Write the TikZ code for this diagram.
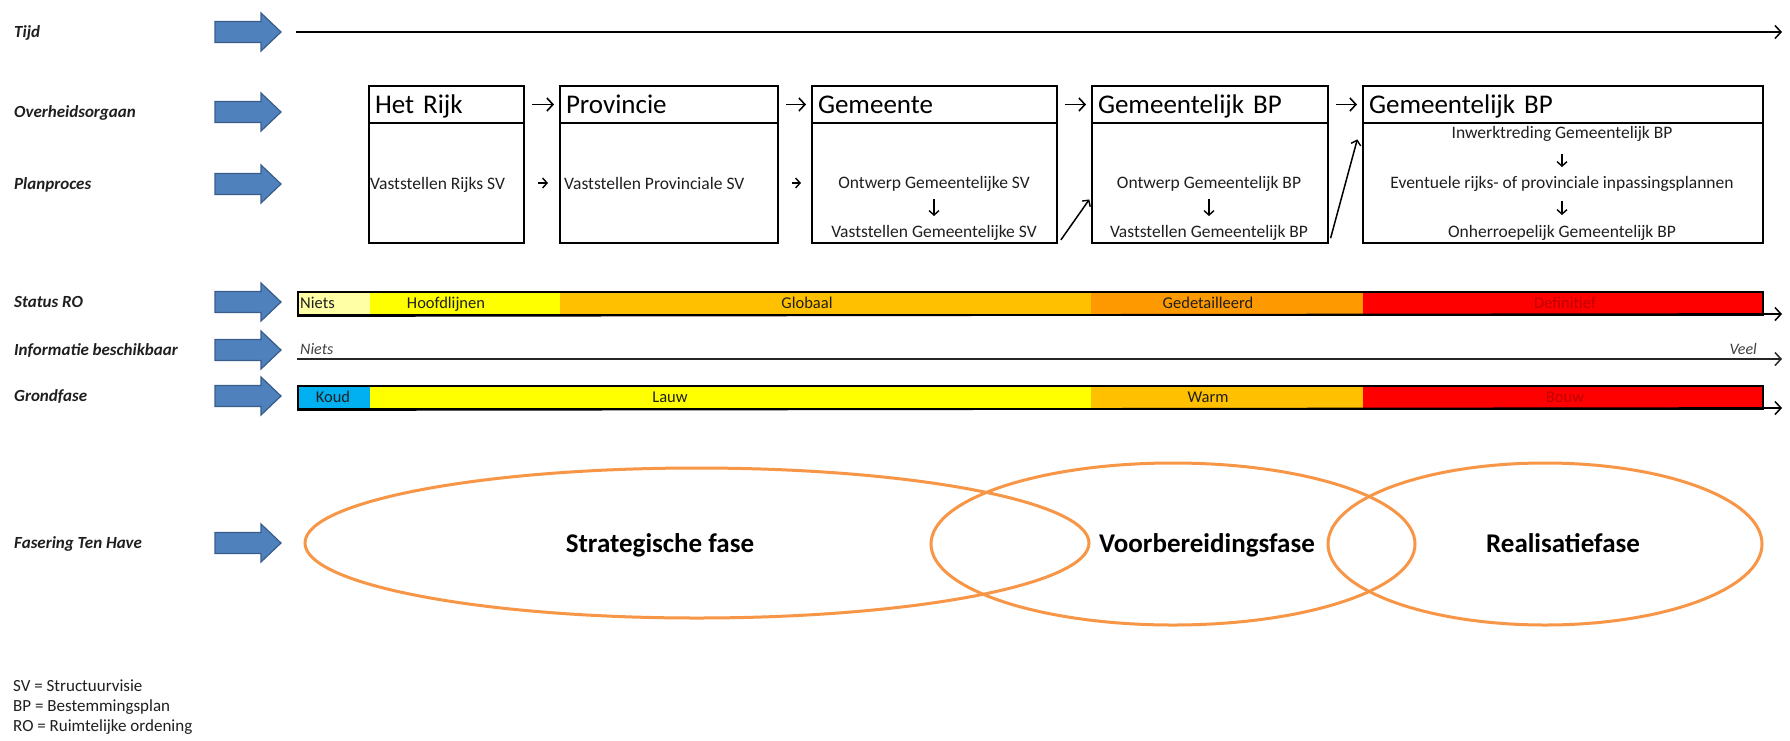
\documentclass[tikz,border=0pt]{standalone}
\usepackage{fontspec}
\setmainfont{Carlito}
\usetikzlibrary{arrows.meta,calc}
\definecolor{arrowblue}{HTML}{4F81BD}
\definecolor{arrowedge}{HTML}{385D8A}
\definecolor{paleyel}{HTML}{FFFFA6}
\definecolor{yel}{HTML}{FFFF00}
\definecolor{gold}{HTML}{FFC000}
\definecolor{darkor}{HTML}{FF9900}
\definecolor{redfill}{HTML}{FF0000}
\definecolor{cyanb}{HTML}{00B0F0}
\definecolor{ellor}{HTML}{F79646}
\definecolor{darkred}{HTML}{C00000}
\definecolor{txt}{HTML}{1F1F1F}
\tikzset{
  lbl/.style={anchor=west, font=\fontsize{17}{20}\selectfont\bfseries\itshape, inner sep=0pt, text height=13.4pt, text depth=2pt, text=txt},
  hdr/.style={draw, line width=2pt, anchor=north west, minimum height=37pt, inner xsep=6pt, inner ysep=0pt, align=left, font=\fontsize{27}{30}\selectfont, text height=22pt, text depth=4pt},
  body/.style={draw, line width=2pt, anchor=north west, minimum height=120pt, inner sep=0pt},
  btxt/.style={font=\fontsize{17.5}{20}\selectfont, inner sep=0pt, text height=13.6pt, text depth=2pt, text=txt},
  bartxt/.style={font=\fontsize{16.5}{20}\selectfont, inner sep=0pt, text height=13pt, text depth=2pt, text=txt},
  itxt/.style={font=\fontsize{16}{20}\selectfont\itshape, inner sep=0pt, text height=12.6pt, text depth=2pt, text=black!75},
  barframe/.style={draw, line width=2pt, anchor=north west, inner sep=0pt, minimum width=1465pt, minimum height=23pt},
  axis/.style={line width=1.8pt, draw=black!85, -{Straight Barb[length=6pt,width=13pt,line width=1.5pt]}},
  sarrow/.style={line width=1.5pt, -{Straight Barb[length=4.5pt,width=10pt,line width=1.4pt]}},
  harrow/.style={line width=1.6pt, shorten <=7pt, shorten >=5pt, -{Straight Barb[length=6pt,width=13pt,line width=1.6pt]}},
  ell/.style={draw=ellor, line width=3pt},
  phase/.style={font=\fontsize{27}{30}\selectfont\bfseries, inner sep=0pt, text=black, text height=22pt, text depth=4pt},
  barrow/.pic={\draw[fill=arrowblue, draw=arrowedge, line width=1.2pt, line join=miter]
     (0,-10.5) -- (46,-10.5) -- (46,-19) -- (66,0) -- (46,19) -- (46,10.5) -- (0,10.5) -- cycle;}
}
\begin{document}
\begin{tikzpicture}[x=1pt,y=-1pt]
\fill[white] (0,0) rectangle (1790,740);
\useasboundingbox (0,0) rectangle (1790,740);

% left labels
\node[lbl] (lTijd) at (14,32) {Tijd};
\node[lbl] (lOver) at (14,112) {Overheidsorgaan};
\node[lbl] (lPlan) at (14,184) {Planproces};
\node[lbl] (lStat) at (14,302) {Status RO};
\node[lbl] (lInfo) at (14,350) {Informatie beschikbaar};
\node[lbl] (lGrond) at (14,396) {Grondfase};
\node[lbl] (lFase) at (14,543) {Fasering Ten Have};

% blue arrows
\pic at (215,32) {barrow};
\pic at (215,112) {barrow};
\pic at (215,184) {barrow};
\pic at (215,302) {barrow};
\pic at (215,350) {barrow};
\pic at (215,396) {barrow};
\pic at (215,543) {barrow};

% time axis
\coordinate (tStart) at (296,32);
\coordinate (tEnd) at (1782,32);
\draw[axis, draw=black] (tStart) -- (tEnd);

% boxes
\node[hdr, text width=143pt] (h1) at (368,85) {Het Rijk};
\node[hdr, text width=206pt] (h2) at (559,85) {Provincie};
\node[hdr, text width=233pt] (h3) at (811,85) {Gemeente};
\node[hdr, text width=224pt] (h4) at (1091,85) {Gemeentelijk BP};
\node[hdr, text width=388pt] (h5) at (1362,85) {Gemeentelijk BP};

\node[body, minimum width=155pt] (b1) at (368,122) {};
\node[body, minimum width=218pt] (b2) at (559,122) {};
\node[body, minimum width=245pt] (b3) at (811,122) {};
\node[body, minimum width=236pt] (b4) at (1091,122) {};
\node[body, minimum width=400pt] (b5) at (1362,122) {};

\draw[harrow] (h1) -- (h2);
\draw[harrow] (h2) -- (h3);
\draw[harrow] (h3) -- (h4);
\draw[harrow] (h4) -- (h5);

\node[btxt, anchor=west] (p1) at (370,184) {Vaststellen Rijks SV};
\node[btxt, anchor=west] (p2) at (564,184) {Vaststellen Provinciale SV};
\node[btxt] (p3a) at (934,183) {Ontwerp Gemeentelijke SV};
\node[btxt] (p3b) at (934,232) {Vaststellen Gemeentelijke SV};
\node[btxt] (p4a) at (1209,183) {Ontwerp Gemeentelijk BP};
\node[btxt] (p4b) at (1209,232) {Vaststellen Gemeentelijk BP};
\node[btxt] (p5a) at (1562,133) {Inwerktreding Gemeentelijk BP};
\node[btxt] (p5b) at (1562,183) {Eventuele rijks- of provinciale inpassingsplannen};
\node[btxt] (p5c) at (1562,232) {Onherroepelijk Gemeentelijk BP};

\draw[sarrow, shorten <=13pt, shorten >=11pt] (b1) -- (b2);
\draw[sarrow, shorten <=13pt, shorten >=10pt] (b2) -- (b3);
\draw[sarrow, shorten <=8pt, shorten >=8pt] (p3a) -- (p3b);
\draw[sarrow, shorten <=8pt, shorten >=8pt] (p4a) -- (p4b);
\draw[sarrow, shorten <=13pt, shorten >=8pt] (p5a) -- (p5b);
\draw[sarrow, shorten <=10pt, shorten >=9pt] (p5b) -- (p5c);
\draw[sarrow, shorten <=5pt, shorten >=3pt] (b3.south east) -- ($(b4.west)+(0,14)$);
\draw[sarrow, shorten <=6pt, shorten >=18pt] (b4.south east) -- (b5.north west);

% Status RO bar
\fill[paleyel] (297,291) rectangle (370,314);
\fill[yel] (370,291) rectangle (560,314);
\fill[gold] (560,291) rectangle (1091,314);
\fill[darkor] (1091,291) rectangle (1363,314);
\fill[redfill] (1363,291) rectangle (1762,314);
\node[barframe] (sbar) at (297,291) {};
\coordinate (sEnd) at (1782,314);
\draw[axis, draw=black] (sbar.south west) -- (sEnd);
\node[bartxt, anchor=west] (sNiets) at (300,302.5) {Niets};
\node[bartxt] (sHoofd) at (446,302.5) {Hoofdlijnen};
\node[bartxt] (sGlob) at (807,302.5) {Globaal};
\node[bartxt] (sGed) at (1208,302.5) {Gedetailleerd};
\node[bartxt, text=darkred] (sDef) at (1565,302.5) {Definitief};

% Informatie beschikbaar
\coordinate (iStart) at (297,359);
\coordinate (iEnd) at (1782,359);
\draw[axis] (iStart) -- (iEnd);
\node[itxt, anchor=west] (iNiets) at (300,349) {Niets};
\node[itxt, anchor=east] (iVeel) at (1757,349) {Veel};

% Grondfase bar
\fill[cyanb] (297,385) rectangle (370,408);
\fill[yel] (370,385) rectangle (1091,408);
\fill[gold] (1091,385) rectangle (1363,408);
\fill[redfill] (1363,385) rectangle (1762,408);
\node[barframe] (gbar) at (297,385) {};
\coordinate (gEnd) at (1782,408);
\draw[axis, draw=black] (gbar.south west) -- (gEnd);
\node[bartxt] (gKoud) at (333,396.5) {Koud};
\node[bartxt] (gLauw) at (670,396.5) {Lauw};
\node[bartxt] (gWarm) at (1208,396.5) {Warm};
\node[bartxt, text=darkred] (gBouw) at (1565,396.5) {Bouw};

% phases
\draw[ell] (697,543) ellipse [x radius=392pt, y radius=75pt];
\draw[ell] (1173,544) ellipse [x radius=242pt, y radius=81pt];
\draw[ell] (1545,544) ellipse [x radius=217pt, y radius=81pt];
\node[phase] (fStrat) at (660,543) {Strategische fase};
\node[phase] (fVoor) at (1207,543) {Voorbereidingsfase};
\node[phase] (fReal) at (1563,543) {Realisatiefase};

% legend
\node[anchor=west, align=left, inner sep=0pt, font=\fontsize{17}{20}\selectfont, text=txt] (legend) at (13,707)
  {SV = Structuurvisie\\BP = Bestemmingsplan\\RO = Ruimtelijke ordening};
\end{tikzpicture}
\end{document}
